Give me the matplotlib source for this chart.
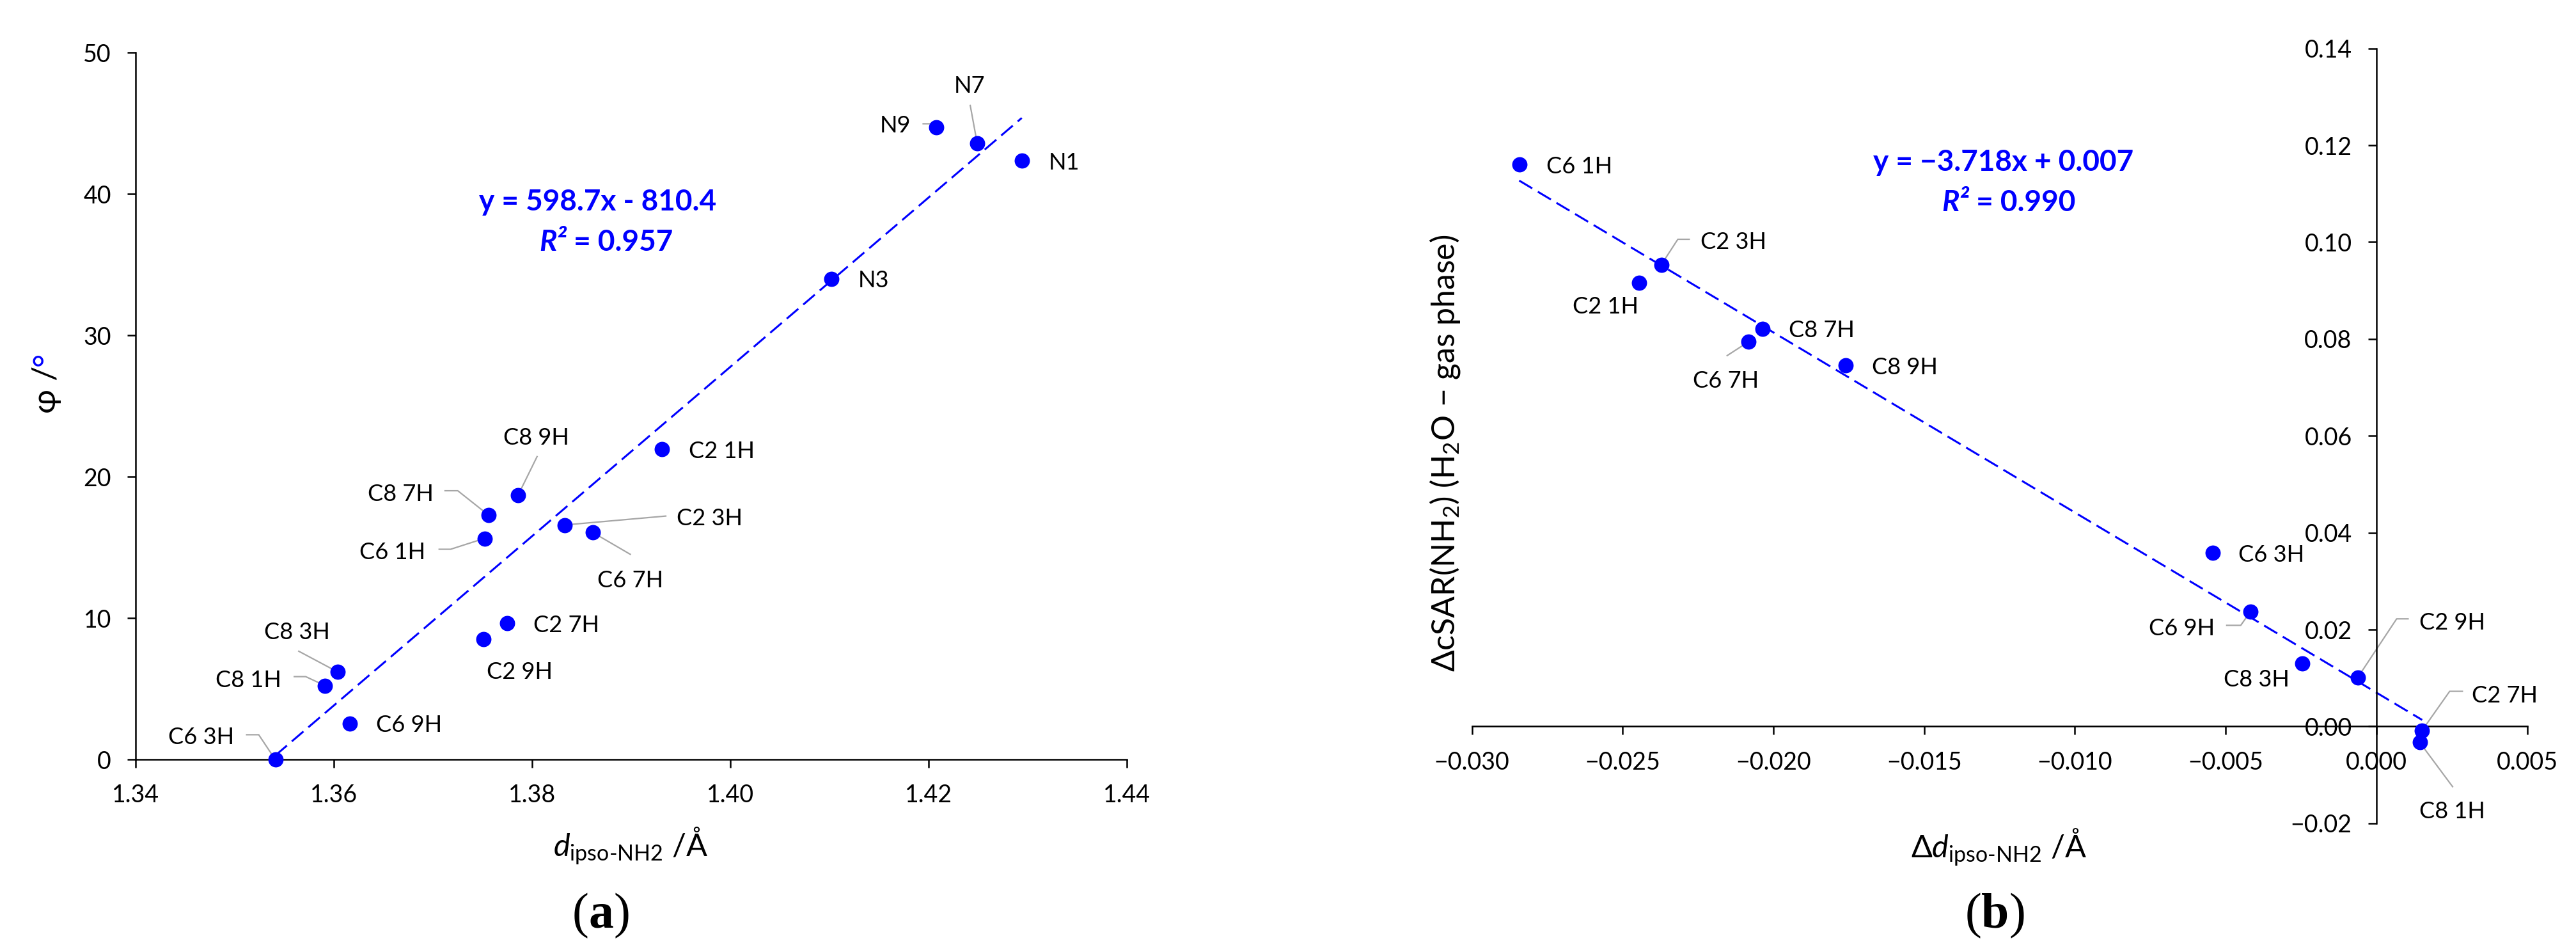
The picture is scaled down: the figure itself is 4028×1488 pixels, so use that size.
import matplotlib
matplotlib.use("Agg")
import matplotlib.pyplot as plt
import numpy as np
from matplotlib.transforms import ScaledTranslation
from matplotlib.ticker import FixedLocator, FuncFormatter

# ---------------- data ----------------
# panel (a)
labels_a = ["C6 3H", "C8 1H", "C8 3H", "C6 9H", "C6 1H", "C8 7H", "C8 9H", "C2 9H",
            "C2 7H", "C2 3H", "C6 7H", "C2 1H", "N3", "N1", "N9", "N7"]
d_a = [1.3541, 1.3591, 1.3604, 1.3616, 1.3752, 1.3756, 1.3786, 1.3751,
       1.3775, 1.3833, 1.3861, 1.3931, 1.4102, 1.4294, 1.4208, 1.4249]
phi_a = [0.0, 5.24, 6.2, 2.57, 15.65, 17.3, 18.72, 8.52,
         9.64, 16.6, 16.08, 21.95, 34.0, 42.36, 44.7, 43.6]
slope_a, intercept_a = 598.7, -810.4
eq_a = "y = 598.7x - 810.4"
r2_a = " = 0.957"
xticks_a = [1.34, 1.36, 1.38, 1.40, 1.42, 1.44]
yticks_a = [0, 10, 20, 30, 40, 50]

# panel (b)
labels_b = ["C6 1H", "C2 3H", "C2 1H", "C8 7H", "C6 7H", "C8 9H",
            "C6 3H", "C6 9H", "C8 3H", "C2 9H", "C2 7H", "C8 1H"]
dd_b = [-0.02843, -0.02372, -0.02445, -0.02035, -0.02083, -0.01760,
        -0.00543, -0.00418, -0.00246, -0.00062, 0.00152, 0.00144]
csar_b = [0.1160, 0.0953, 0.0916, 0.0821, 0.0794, 0.0745,
          0.0358, 0.02365, 0.01305, 0.01007, -0.0008, -0.0033]
slope_b, intercept_b = -3.718, 0.007
eq_b = "y = \u22123.718x + 0.007"
r2_b = " = 0.990"
xticks_b = [-0.030, -0.025, -0.020, -0.015, -0.010, -0.005, 0.000, 0.005]
yticks_b = [-0.02, 0.00, 0.02, 0.04, 0.06, 0.08, 0.10, 0.12, 0.14]

# ---------------- layout (pixel offsets of labels / leader lines) ----------------
# (dx, dy, ha, leader vertices) ; dy positive = downwards in image pixels
layout_a = {
    "C6 3H": (-64, -38, "right", [(-46, -39), (-26, -39)]),
    "C8 1H": (-68, -11, "right", [(-49, -14), (-30, -14)]),
    "C8 3H": (-64, -65, "center", [(-62, -33)]),
    "C6 9H": (41, 0, "left", None),
    "C6 1H": (-92, 19, "right", [(-72, 17), (-53, 17)]),
    "C8 7H": (-86, -36, "right", [(-69, -38), (-48, -38)]),
    "C8 9H": (28, -92, "center", [(30, -61)]),
    "C2 9H": (56, 48, "center", None),
    "C2 7H": (41, 0, "left", None),
    "C2 3H": (175, -13, "left", [(159, -14)]),
    "C6 7H": (59, 73, "center", [(60, 35)]),
    "C2 1H": (42, 0, "left", None),
    "N3": (42, 0, "left", None),
    "N1": (42, 0, "left", None),
    "N9": (-40, -6, "right", [(-22, -6), (-5, -6)]),
    "N7": (-12, -92, "center", [(-11, -60)]),
}
layout_b = {
    "C6 1H": (42, 0, "left", None),
    "C2 3H": (61, -39, "left", [(45, -40), (26, -40)]),
    "C2 1H": (-53, 34, "center", None),
    "C8 7H": (41, 0, "left", None),
    "C6 7H": (-35, 58, "center", [(-34, 22)]),
    "C8 9H": (41, 0, "left", None),
    "C6 3H": (40, 0, "left", None),
    "C6 9H": (-56, 23, "right", [(-38, 21), (-15, 21)]),
    "C8 3H": (-71, 23, "center", None),
    "C2 9H": (96, -89, "left", [(80, -92), (61, -92)]),
    "C2 7H": (78, -57, "left", [(64, -61), (43, -61)]),
    "C8 1H": (51, 105, "center", [(52, 70)]),
}

# ---------------- style ----------------
plt.rcParams["font.family"] = ["Lato", "DejaVu Sans"]
plt.rcParams["mathtext.fontset"] = "custom"
plt.rcParams["mathtext.rm"] = "Lato"
plt.rcParams["mathtext.it"] = "Lato:italic"
plt.rcParams["mathtext.bf"] = "Lato:bold"

W, H, DPI = 4028, 1488, 200
BLUE = "#0000FF"
GREY = "#A6A6A6"
TICK_FS = 13.5
LAB_FS = 13
EQ_FS = 16.5

fig = plt.figure(figsize=(W / DPI, H / DPI), dpi=DPI)
fig.patch.set_facecolor("white")

axA = fig.add_axes([212 / W, 1 - 1187.4 / H, 1550 / W, 1105.1 / H])
axB = fig.add_axes([2301.5 / W, 1 - 1286.9 / H, 1650 / W, 1211.3 / H])


def style_axes(ax):
    for s in ["top", "right"]:
        ax.spines[s].set_visible(False)
    for s in ["left", "bottom"]:
        ax.spines[s].set_linewidth(0.9)
        ax.spines[s].set_color("#000000")
    ax.tick_params(direction="out", length=4.7, width=0.9, pad=9.0,
                   labelsize=TICK_FS, colors="#000000")
    ax.set_facecolor("none")


def draw_labels(ax, xs, ys, labels, layout):
    for x, y, lab in zip(xs, ys, labels):
        dx, dy, ha, leader = layout[lab]
        trans = fig.dpi_scale_trans + ScaledTranslation(x, y, ax.transData)
        ax.text(dx / DPI, -dy / DPI, lab, transform=trans, ha=ha,
                va="center_baseline", fontsize=LAB_FS, color="#000000")
        if leader:
            vx = [v[0] / DPI for v in leader] + [0]
            vy = [-v[1] / DPI for v in leader] + [0]
            ax.plot(vx, vy, transform=trans, color=GREY, lw=0.8, zorder=1,
                    clip_on=False, solid_capstyle="butt")


def panel_letter(xc, yc, letter):
    # "(" and ")" regular, letter bold, all in a serif face
    kw = dict(fontsize=28, family="Liberation Serif", va="baseline")
    tl = fig.text(xc, yc, letter, ha="center", fontweight="bold", **kw)
    fig.canvas.draw()
    fig.text(0, 0, "(", ha="right", **kw).set_visible(False)
    ann_l = plt.annotate("(", xy=(0, 0), xycoords=tl, ha="right", va="bottom",
                         fontsize=28, family="Liberation Serif",
                         annotation_clip=False)
    ann_r = plt.annotate(")", xy=(1, 0), xycoords=tl, ha="left", va="bottom",
                         fontsize=28, family="Liberation Serif",
                         annotation_clip=False)
    return tl, ann_l, ann_r


# ---------------- panel (a) ----------------
style_axes(axA)
axA.set_xlim(1.34, 1.44)
axA.set_ylim(0, 50)
axA.xaxis.set_major_locator(FixedLocator(xticks_a))
axA.yaxis.set_major_locator(FixedLocator(yticks_a))
axA.xaxis.set_major_formatter(FuncFormatter(lambda v, p: f"{v:.2f}"))
axA.yaxis.set_major_formatter(FuncFormatter(lambda v, p: f"{v:.0f}"))

xa = np.array([min(d_a), max(d_a)])
axA.plot(xa, slope_a * xa + intercept_a, color=BLUE, lw=1.1,
         ls=(0, (7.8, 3.3)), zorder=2, clip_on=False)
axA.scatter(d_a, phi_a, s=74, color=BLUE, zorder=3, clip_on=False, linewidths=0)
draw_labels(axA, d_a, phi_a, labels_a, layout_a)

axA.text(1.3866, 38.84, eq_a, color=BLUE, fontsize=EQ_FS, fontweight="bold",
         ha="center", va="baseline")
axA.text(1.3835, 36.0, "R\u00b2", color=BLUE, fontsize=EQ_FS, fontweight="bold",
         style="italic", ha="right", va="baseline")
axA.text(1.3835, 36.0, r2_a, color=BLUE, fontsize=EQ_FS, fontweight="bold",
         ha="left", va="baseline")

# axis labels (a)
fig.text(986 / W, 1 - 1322 / H, r"$d_{\text{ipso-NH2}}$ /Å", ha="center",
         va="center", fontsize=17.5)
tphi = fig.text(73 / W, 1 - 609 / H, "φ /", rotation=90, ha="center",
                va="center", fontsize=18.5)
axA.annotate("°", xy=(0.5, 1.0), xycoords=tphi, rotation=90, ha="center",
             va="bottom", fontsize=18.5, color=BLUE, annotation_clip=False)

# ---------------- panel (b) ----------------
style_axes(axB)
axB.set_xlim(-0.030, 0.005)
axB.set_ylim(-0.02, 0.14)
axB.spines["left"].set_position(("data", 0))
axB.spines["bottom"].set_position(("data", 0))
axB.xaxis.set_major_locator(FixedLocator(xticks_b))
axB.yaxis.set_major_locator(FixedLocator(yticks_b))


def fmt(v, nd):
    s = f"{round(v, nd) + 0.0:.{nd}f}"
    return s.replace("-", "\u2212")


axB.xaxis.set_major_formatter(FuncFormatter(lambda v, p: fmt(v, 3)))
axB.yaxis.set_major_formatter(FuncFormatter(lambda v, p: fmt(v, 2)))

xb = np.array([min(dd_b), max(dd_b)])
axB.plot(xb, slope_b * xb + intercept_b, color=BLUE, lw=1.1,
         ls=(0, (7.8, 3.3)), zorder=2, clip_on=False)
axB.scatter(dd_b, csar_b, s=74, color=BLUE, zorder=3, clip_on=False, linewidths=0)
draw_labels(axB, dd_b, csar_b, labels_b, layout_b)

axB.text(-0.01237, 0.1147, eq_b, color=BLUE, fontsize=EQ_FS, fontweight="bold",
         ha="center", va="baseline")
axB.text(-0.01351, 0.1064, "R\u00b2", color=BLUE, fontsize=EQ_FS, fontweight="bold",
         style="italic", ha="right", va="baseline")
axB.text(-0.01351, 0.1064, r2_b, color=BLUE, fontsize=EQ_FS, fontweight="bold",
         ha="left", va="baseline")

fig.text(3125 / W, 1 - 1324 / H, r"Δ$d_{\text{ipso-NH2}}$ /Å", ha="center",
         va="center", fontsize=17.5)
fig.text(2260 / W, 1 - 708 / H, r"ΔcSAR(NH$_2$) (H$_2$O − gas phase)",
         rotation=90, ha="center", va="center", fontsize=18)

# panel letters
for xc, letter in [(940, "a"), (3120, "b")]:
    kw = dict(fontsize=28, family="Liberation Serif")
    tl = fig.text(xc / W, 1 - 1450 / H, letter, ha="center", va="baseline",
                  fontweight="bold", **kw)
    fig.text(0, 0, "", **kw)
    axA.annotate("(", xy=(0, 0), xycoords=tl, ha="right", va="bottom",
                 annotation_clip=False, **kw)
    axA.annotate(")", xy=(1, 0), xycoords=tl, ha="left", va="bottom",
                 annotation_clip=False, **kw)

fig.savefig("out.png", dpi=DPI, facecolor="white")
